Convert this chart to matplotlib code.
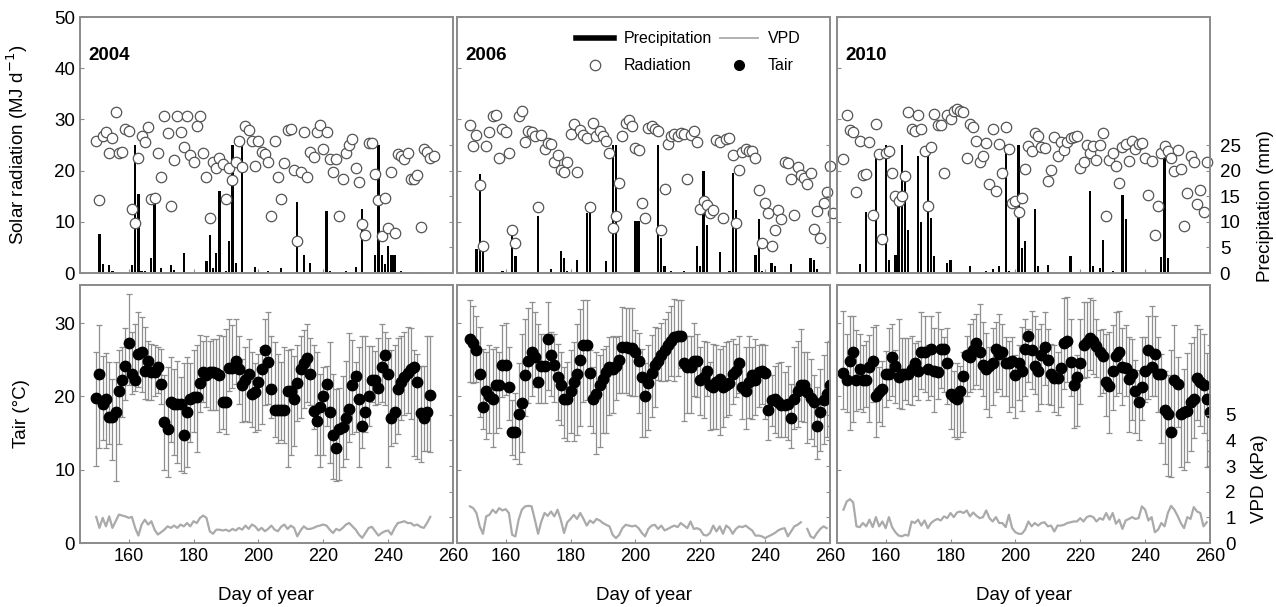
import matplotlib
matplotlib.use('Agg')
import matplotlib.pyplot as plt
from matplotlib.lines import Line2D
import numpy as np

plt.rcParams['font.family'] = ['Liberation Sans', 'DejaVu Sans']

years = ['2004', '2006', '2010']

# ---------------- 2004 ----------------
rad04_start = 150
rad04 = [25.8, 14.2, 26.8, 27.6, 23.4, 26.3, 31.4, 23.4, 23.7, 28.2, 27.8, 12.6, 9.7, 22.5, 26.7,
         25.5, 28.6, 14.5, 14.7, 23.4, 18.8, 30.6, 27.3, 13.1, 22.1, 30.7, 27.6, 24.6, 30.7, 23.1,
         21.6, 28.8, 30.6, 23.4, 18.8, 10.8, 21.6, 20.6, 22.5, 21.2, 14.4, 20.6, 18.2, 21.7, 25.7,
         20.8, 28.8, 27.9, 25.7, 20.9, 25.7, 23.7, 23.2, 21.6, 11.2, 25.8, 18.8, 14.4, 21.4, 27.9,
         28.2, 20.1, 6.2, 19.7, 27.5, 18.8, 23.7, 22.7, 27.5, 28.9, 24.3, 27.6, 22.2, 19.7, 22.2,
         11.2, 18.3, 23.4, 25.0, 26.1, 20.6, 17.8, 9.5, 7.5, 25.4, 25.4, 19.3, 14.2, 7.3, 14.7,
         8.8, 19.8, 7.8, 23.2, 22.9, 22.2, 23.4, 18.3, 18.3, 19.2, 9.0, 24.2, 23.7, 22.5, 22.9]
pr04_day = [151, 152, 154, 155, 161, 162, 163, 164, 165, 167, 168, 170, 173, 174, 177, 179, 180,
            184, 185, 186, 187, 188, 190, 191, 192, 193, 195, 197, 199, 203, 207, 212, 214, 216,
            221, 222, 227, 230, 232, 236, 237, 238, 239, 240, 241, 242, 244, 250]
pr04 = [7.6, 1.8, 1.5, 0.3, 1.5, 25, 15.5, 0.4, 0.3, 3.0, 14.7, 1.0, 1.6, 0.5, 3.9, 0.2, 0.2,
        2.4, 7.4, 1.0, 4.0, 16, 0.3, 6.2, 25, 2.0, 25, 0.2, 1.1, 0.3, 1.0, 13.9, 3.6, 2.0,
        12.2, 0.3, 0.3, 1.1, 12.5, 3.6, 25, 3.6, 1.8, 5.2, 3.6, 3.6, 0.3, 0.2]
tair04_start = 150
tair04 = [19.8, 23.1, 19.0, 19.7, 17.2, 17.2, 17.9, 20.8, 22.3, 24.1, 27.3, 23.0, 22.3, 25.8, 26.1,
          23.5, 24.8, 23.4, 23.4, 24.0, 21.7, 16.5, 15.6, 19.2, 19.0, 19.0, 19.0, 14.8, 17.9, 19.7,
          19.9, 19.9, 21.9, 23.4, 22.9, 23.4, 23.4, 23.2, 22.9, 19.2, 19.3, 23.9, 23.9, 24.9, 23.8,
          21.5, 22.2, 23.1, 20.4, 20.6, 22.0, 23.8, 26.3, 24.7, 21.0, 18.2, 18.2, 18.1, 18.2, 20.8,
          20.7, 19.7, 21.9, 23.8, 24.5, 25.3, 23.1, 18.0, 16.7, 18.5, 20.1, 21.7, 17.9, 14.8, 12.9,
          15.6, 15.8, 17.0, 18.3, 21.5, 22.8, 19.6, 16.0, 17.9, 20.0, 22.2, 22.3, 21.1, 24.0, 25.6,
          23.1, 17.0, 17.9, 21.0, 22.0, 22.6, 23.2, 23.8, 24.0, 22.0, 17.7, 17.0, 17.9, 20.2]
tmax04 = [26.0, 29.7, 25.5, 25.9, 24.7, 22.4, 24.7, 26.3, 26.7, 29.3, 34.0, 28.8, 29.9, 31.5, 30.8,
          29.5, 27.6, 27.2, 27.0, 26.7, 26.5, 22.9, 24.0, 25.4, 23.8, 24.9, 22.6, 24.5, 25.4, 24.5,
          26.3, 27.0, 28.4, 27.6, 28.3, 27.6, 27.9, 27.9, 28.4, 28.3, 29.2, 30.6, 29.7, 30.6, 28.3,
          25.1, 26.7, 27.9, 26.0, 24.5, 25.8, 26.7, 30.6, 31.5, 28.3, 27.4, 25.8, 24.7, 26.7, 26.3,
          26.5, 25.5, 27.0, 28.3, 29.0, 29.9, 28.0, 27.0, 26.0, 23.0, 24.0, 24.2, 27.4, 23.0, 21.0,
          21.2, 22.8, 24.9, 28.6, 27.7, 24.7, 26.7, 28.3, 28.3, 26.9, 26.9, 26.2, 28.0, 29.9, 28.8,
          28.0, 26.4, 27.0, 28.0, 28.3, 28.8, 29.5, 29.3, 26.3, 25.8, 24.2, 24.2, 28.3, 28.3]
tmin04 = [10.5, 13.0, 14.1, 12.9, 13.5, 11.3, 8.5, 13.5, 17.2, 19.5, 21.5, 20.4, 20.7, 21.3, 20.6,
          19.7, 19.5, 19.5, 20.0, 20.5, 19.0, 9.9, 9.0, 13.8, 12.0, 10.9, 9.8, 9.5, 10.4, 13.8,
          15.2, 12.4, 17.9, 19.3, 18.6, 18.1, 18.2, 18.2, 15.2, 15.6, 14.9, 20.8, 21.2, 21.7, 19.0,
          16.5, 16.7, 16.5, 15.8, 15.2, 15.4, 16.3, 18.8, 19.0, 17.1, 14.5, 13.6, 14.0, 13.6, 10.4,
          12.0, 13.3, 16.7, 17.0, 18.4, 19.2, 18.8, 15.6, 12.0, 10.4, 12.0, 15.9, 10.9, 8.8, 8.4,
          8.6, 10.4, 11.5, 13.8, 14.9, 15.1, 10.4, 12.9, 15.1, 16.0, 19.2, 18.8, 19.0, 19.3, 18.8,
          10.4, 13.3, 13.6, 14.9, 16.8, 17.5, 17.7, 16.9, 11.9, 11.5, 11.0, 12.6, 12.6, 12.4]
vpd04_start = 150
vpd04 = [1.02, 0.59, 0.98, 0.65, 1.04, 0.59, 0.85, 1.11, 1.07, 1.04, 0.98, 1.02, 0.59, 0.29, 0.72,
         0.91, 0.72, 0.85, 0.52, 0.33, 0.42, 0.52, 0.65, 0.59, 0.68, 0.59, 0.72, 0.65, 0.78, 0.65,
         0.85, 0.78, 0.98, 1.07, 0.98, 0.46, 0.36, 0.52, 0.52, 0.49, 0.52, 0.46, 0.55, 0.49, 0.59,
         0.52, 0.68, 0.55, 0.72, 0.65, 0.49, 0.59, 0.46, 0.55, 0.68, 0.52, 0.46, 0.63, 0.72, 0.55,
         0.68, 0.59, 0.26, 0.49, 0.65, 0.55, 0.55, 0.59, 0.65, 0.68, 0.72, 0.68, 0.52, 0.39, 0.55,
         0.49, 0.59, 0.72, 0.78, 0.65, 0.52, 0.33, 0.20, 0.39, 0.59, 0.63, 0.46, 0.29, 0.39, 0.46,
         0.49, 0.33, 0.59, 0.78, 0.81, 0.85, 0.78, 0.78, 0.68, 0.72, 0.63, 0.59, 0.78, 1.02]

# ---------------- 2006 ----------------
rad06_start = 149
rad06 = [28.9, 24.8, 26.9, 17.1, 5.2, 24.8, 27.5, 30.7, 30.8, 22.4, 28.1, 27.5, 23.4, 8.5, 5.8,
         30.6, 31.7, 25.6, 27.8, 27.5, 26.7, 12.9, 26.9, 24.3, 25.4, 25.2, 21.7, 23.0, 20.1, 19.7,
         21.7, 27.1, 29.1, 19.7, 28.0, 26.9, 26.3, 12.9, 29.3, 26.7, 27.8, 26.7, 25.8, 23.4, 8.8,
         11.1, 17.6, 26.7, 29.3, 29.9, 28.8, 24.5, 24.1, 13.6, 10.8, 28.4, 28.8, 28.1, 27.8, 8.5,
         16.5, 25.2, 26.8, 27.1, 26.8, 27.3, 27.1, 18.3, 26.9, 27.8, 25.5, 12.5, 14.1, 13.2, 11.8,
         12.4, 26.0, 25.5, 10.8, 26.1, 26.3, 23.0, 9.7, 20.1, 23.7, 24.2, 23.9, 23.9, 22.4, 16.3,
         5.8, 13.6, 11.8, 5.2, 8.5, 12.4, 10.5, 21.7, 21.4, 18.3, 11.4, 20.8, 19.1, 18.6, 17.3,
         19.6, 8.6, 12.1, 6.9, 13.6, 15.8, 21.0, 11.8]
pr06_day = [151, 152, 153, 159, 162, 163, 170, 174, 177, 178, 179, 182, 185, 186, 191, 193, 194,
            195, 196, 200, 201, 207, 208, 209, 211, 215, 219, 220, 221, 222, 226, 229, 230, 231,
            237, 238, 239, 242, 243, 248, 250, 254, 255, 256, 260]
pr06 = [4.7, 19.3, 4.7, 0.3, 7.8, 3.4, 11.2, 0.8, 4.4, 2.9, 0.3, 2.6, 11.8, 12.4, 2.4, 25, 25,
        0.2, 0.2, 10.1, 10.1, 25, 6.9, 1.3, 0.3, 0.3, 5.2, 1.3, 20.0, 9.3, 4.1, 0.3, 19.6, 12.3,
        3.6, 10.5, 0.4, 2.0, 1.3, 1.8, 0.2, 2.9, 2.6, 0.8, 13.7]
tair06_start = 149
tair06 = [27.9, 27.3, 26.3, 23.0, 18.5, 20.7, 20.1, 19.7, 21.6, 21.6, 24.3, 24.3, 21.3, 15.1, 15.2,
          17.6, 19.1, 22.9, 24.9, 26.1, 25.4, 22.0, 24.2, 24.2, 27.9, 25.6, 24.3, 22.6, 21.5, 19.7,
          19.7, 20.8, 22.0, 23.1, 25.0, 27.0, 27.0, 23.2, 19.7, 20.4, 21.5, 22.4, 23.3, 24.0, 23.7,
          24.2, 25.0, 26.7, 26.7, 26.6, 26.6, 26.1, 24.8, 22.6, 20.1,
          21.9, 23.2, 24.3, 24.9, 25.6, 26.4, 27.0, 27.6, 28.1, 28.3, 28.3, 24.5, 24.0, 24.0, 24.8,
          24.8, 22.3, 22.6, 23.5, 21.6, 21.3, 22.0, 22.4, 21.3, 21.5, 21.8, 23.1, 23.5, 24.6, 21.3,
          20.7, 22.0, 22.9, 22.3, 23.3, 23.5, 23.2, 18.2, 19.5, 19.6, 19.2, 18.9, 18.9, 19.0, 17.0,
          19.7, 20.8, 21.6, 21.6, 20.6, 19.8, 19.2, 16.0, 17.9, 19.5, 20.4, 21.6]
tmax06 = [33.1, 32.4, 31.0, 29.5, 26.5, 26.0, 27.0, 26.5, 26.7, 26.0, 29.7, 30.0, 26.7, 19.5, 20.5,
          24.5, 28.5, 30.5, 32.0, 32.9, 31.5, 29.9, 28.5, 28.5, 32.9, 28.8, 28.5, 27.2, 26.0, 24.0,
          24.7, 26.3, 27.4, 29.9, 31.9, 33.2, 33.2, 26.3, 24.0, 26.0, 25.6, 26.5, 26.9, 28.1, 28.3,
          28.1, 28.3, 32.2, 32.0, 32.0, 32.0, 29.1, 28.6, 26.5, 24.5,
          27.0, 28.4, 29.5, 29.3, 30.0, 30.6, 31.5, 32.4, 33.3, 33.1, 33.1, 28.3, 28.3, 28.3, 30.0,
          28.5, 26.7, 27.6, 27.4, 24.7, 27.2, 27.0, 26.5, 26.9, 27.4, 27.6, 27.8, 27.2, 28.3, 24.3,
          26.7, 28.3, 26.7, 27.8, 27.0, 27.2, 27.0, 23.1, 22.9, 24.2, 24.5, 24.7, 23.4, 24.1, 21.7,
          26.7, 27.6, 29.2, 26.0, 26.0, 25.1, 22.9, 21.3, 23.8, 25.6, 27.4, 27.5]
tmin06 = [22.0, 21.8, 22.0, 17.2, 15.5, 14.2, 15.0, 13.1, 15.0, 15.7, 19.9, 20.2, 16.8, 12.0, 11.5,
          10.8, 12.4, 17.3, 19.1, 20.0, 21.3, 19.1, 19.1, 19.1, 20.9, 20.0, 19.3, 16.8, 16.1, 14.3,
          13.9, 15.0, 13.9, 14.8, 15.9, 19.3, 19.5, 15.9, 15.0, 12.2, 13.1, 15.0, 15.0, 17.5, 17.7,
          19.5, 20.5, 20.5, 20.5, 20.2, 20.0, 20.0, 17.7, 14.5, 14.5,
          15.4, 17.2, 18.6, 22.3, 22.1, 22.1, 22.2, 22.8, 22.1, 22.8, 23.9, 16.7, 17.8, 17.8, 20.1,
          19.9, 17.5, 17.0, 20.0, 15.4, 15.6, 15.6, 14.7, 15.8, 17.2, 17.5, 19.0, 19.9, 20.5, 16.9,
          15.5, 17.0, 16.9, 17.5, 18.5, 19.0, 16.9, 14.0, 16.0, 15.0, 14.5, 14.5, 14.5, 14.0, 13.0,
          15.6, 15.8, 16.7, 16.5, 13.7, 14.2, 13.2, 11.5, 12.5, 13.5, 14.5, 16.0]
vpd06_start = 149
vpd06 = [1.43, 1.36, 1.17, 0.65, 0.36, 1.04, 1.10, 1.30, 1.17, 1.36, 1.27, 1.32, 1.17, 0.32, 0.26,
         0.91, 1.30, 1.43, 1.45, 1.43, 0.91, 0.36, 0.84, 1.17, 1.06, 1.23, 1.04, 1.30, 0.91, 0.39,
         0.81, 0.94, 1.10, 0.94, 1.17, 0.94, 0.68, 0.88, 0.78, 0.94, 0.88, 0.78, 0.71, 0.65, 0.32,
         0.19, 0.32, 0.58, 0.71, 0.68, 0.65, 0.68, 0.58, 0.39, 0.26, 0.55, 0.68, 0.71, 0.55, 0.68,
         0.49, 0.55, 0.62, 0.68, 0.62, 0.78, 0.68, 0.58, 0.84, 0.55, 0.58, 0.52, 0.32, 0.29, 0.39,
         0.68, 0.45, 0.65, 0.36, 0.68, 0.58, 0.36, 0.55, 0.65, 0.62, 0.68, 0.58, 0.49, 0.29, 0.29,
         0.26, 0.19, 0.26, 0.32, 0.39, 0.49, 0.55, 0.58, 0.26, 0.45, 0.65, 0.71, 0.81, np.nan, 0.55,
         0.26, 0.19, 0.39, 0.55, 0.65, 0.58]

# ---------------- 2010 ----------------
rad10_start = 147
rad10 = [22.2, 30.8, 28.0, 27.6, 15.8, 25.8, 19.1, 19.3, 25.5, 11.4, 29.1, 23.2, 6.7, 23.5, 23.9,
         19.5, 15.0, 14.1, 15.0, 19.0, 31.4, 28.1, 27.8, 30.8, 28.2, 23.9, 13.1, 24.7, 31.0, 28.9,
         28.9, 19.6, 30.8, 30.1, 31.7, 32.0, 31.7, 31.5, 22.5, 29.1, 28.6, 25.8, 21.6, 22.9, 25.4,
         17.3, 28.1, 16.0, 25.2, 19.5, 28.6, 24.3, 13.6, 14.1, 11.9, 14.7, 20.4, 24.8, 23.9, 27.3,
         26.8, 24.7, 24.5, 18.0, 20.1, 26.5, 22.9, 25.5, 24.1, 25.6, 26.3, 26.5, 26.8, 20.6, 21.7,
         25.0, 23.5, 24.8, 22.1, 25.0, 27.3, 11.1, 22.1, 23.5, 21.0, 17.6, 24.7, 25.2, 21.9, 25.8,
         24.2, 25.2, 25.4, 22.5, 15.2, 21.9, 7.5, 13.1, 23.5, 24.8, 23.9, 22.5, 19.9, 24.1, 20.3,
         9.2, 15.7, 22.9, 21.7, 13.4, 16.3, 11.9, 21.7]
pr10_day = [152, 154, 157, 160, 161, 163, 164, 165, 166, 167, 170, 171, 173, 174, 175, 179, 180,
            186, 190, 191, 193, 195, 197, 198, 201, 202, 203, 206, 207, 210, 213, 217, 223, 224,
            226, 227, 230, 233, 234, 237, 240, 242, 245, 246, 247]
pr10 = [1.8, 11.9, 22.4, 25, 2.5, 3.6, 13.1, 25, 18, 8.5, 22.9, 9.9, 22.9, 10.8, 3.3, 2.0, 2.5,
        1.3, 0.2, 0.3, 0.8, 1.4, 25, 0.3, 25, 4.9, 6.2, 12.5, 1.3, 1.6, 0.2, 3.4, 16, 1.4,
        1.0, 6.5, 0.3, 15.2, 10.5, 0.2, 0.2, 0.2, 3.1, 22.4, 2.9]
tair10_start = 147
tair10 = [23.2, 22.3, 24.9, 26.0, 22.3, 23.8, 22.2, 22.2, 24.0, 24.8, 20.1, 20.6, 21.0, 23.1, 23.0,
          25.4, 24.2, 22.6, 23.1, 23.1, 23.1, 23.7, 24.5, 23.5, 26.0, 26.0, 23.8, 26.5, 23.5, 23.3,
          26.5, 26.5, 24.5, 20.4, 19.9, 19.7, 20.8, 22.8, 25.6, 25.4, 26.3, 27.3, 26.1, 24.3, 23.8,
          24.2, 24.6, 26.5, 25.8, 26.0, 24.5, 24.6, 24.9, 22.9, 24.5, 23.5,
          26.5, 28.3, 26.3, 24.2, 23.5, 25.6, 26.7, 25.0, 23.0, 22.5, 22.5, 23.9, 27.3, 27.6, 24.7,
          21.5, 22.6, 24.6, 27.0, 27.4, 28.0, 27.6, 26.9, 26.0, 25.5, 22.0, 21.4, 23.5, 25.5, 26.0,
          24.0, 23.9, 22.4, 23.0, 20.7, 19.2, 21.3, 23.5, 26.3, 24.0, 25.8, 23.0, 23.1, 18.1, 17.6,
          15.1, 22.2, 21.7, 17.6, 17.9, 18.0, 19.3, 19.7, 22.5, 22.0, 21.6, 19.6, 17.9]
tmax10 = [31.7, 28.5, 31.0, 31.0, 29.1, 28.5, 27.0, 27.5, 28.4, 29.5, 29.7, 24.0, 24.9, 26.2, 29.3,
          29.9, 26.3, 30.6, 28.0, 28.0, 28.0, 28.2, 27.3, 27.5, 31.5, 31.0, 27.0, 31.0, 29.3, 31.5,
          29.2, 28.1, 29.4, 24.5, 23.5, 24.5, 24.2, 26.0, 28.3, 29.9, 30.6, 31.3, 32.6, 30.2, 28.6,
          26.8, 29.3, 30.2, 31.3, 29.9, 28.1, 27.6, 28.1, 25.6, 27.0, 29.5,
          30.6, 29.2, 31.7, 31.0, 29.2, 29.9, 31.5, 29.2, 27.2, 27.0, 26.1, 27.2, 33.4, 33.6, 30.6,
          24.2, 25.6, 30.6, 32.9, 32.9, 33.4, 33.1, 30.6, 29.0, 29.2, 28.5, 28.8, 29.7, 31.5, 31.7,
          29.4, 29.7, 28.1, 27.8, 25.0, 23.6, 28.1, 28.1, 31.0, 32.4, 31.0, 28.1, 25.8, 23.5, 22.9,
          26.4, 29.7, 25.4, 21.3, 23.8, 25.9, 27.3, 28.1, 29.7, 29.2, 28.5, 25.9, 27.0]
tmin10 = [18.3, 17.9, 15.4, 16.5, 18.0, 18.3, 17.9, 18.5, 16.5, 19.2, 14.5, 16.5, 16.0, 18.5, 19.5,
          20.1, 19.1, 18.4, 18.3, 19.5, 19.0, 18.9, 20.1, 19.5, 21.0, 20.6, 19.5, 20.1, 17.9, 19.7,
          21.2, 20.6, 19.0, 15.6, 14.5, 14.2, 14.5, 15.1, 20.1, 20.6, 21.0, 21.5, 21.0, 20.1, 18.3,
          17.2, 18.8, 20.6, 21.0, 20.1, 20.1, 17.9, 18.5, 17.0, 19.5, 18.0,
          20.1, 22.0, 21.0, 20.4, 18.0, 19.0, 21.6, 19.0, 18.9, 17.9, 17.5, 18.5, 21.0, 22.0, 20.1,
          15.7, 16.0, 19.0, 22.5, 22.7, 23.6, 23.0, 22.7, 20.1, 20.5, 17.4, 15.0, 18.2, 20.1, 20.5,
          18.9, 20.1, 15.2, 16.8, 15.0, 14.1, 16.8, 19.2, 19.7, 20.1, 20.1, 17.9, 13.7, 10.8, 9.2,
          9.0, 15.4, 15.8, 10.4, 10.0, 11.0, 12.5, 14.3, 16.8, 16.0, 15.0, 10.4, 12.5]
vpd10_start = 147
vpd10 = [1.30, 1.62, 1.71, 1.58, 0.65, 0.62, 0.78, 0.65, 0.91, 0.62, 1.01, 0.65, 0.84, 0.58, 1.01,
         0.62, 0.42, 0.29, 0.26, 0.32, 0.29, 0.84, 0.78, 0.91, 0.68, 0.88, 0.58, 0.78, 0.88, 0.94,
         0.88, 1.04, 0.97, 1.17, 1.01, 1.19, 1.23, 1.17, 1.27, 1.04, 1.19, 1.06, 0.97, 1.01, 1.27,
         0.97, 0.84, 1.01, 0.78, 0.78, 0.62, 1.10, 0.58, 0.42, 0.36, 0.36, 0.52, 0.84, 0.65, 0.78,
         0.68, 0.78, 0.81, 0.65, 0.68, 0.45, 0.68, 0.68, 0.71, 0.78, 0.81, 0.84, 0.84, 0.97, 0.84,
         1.01, 1.06, 1.01, 0.84, 0.97, 0.91, 1.17, 0.91, 1.17, 0.75, 0.91, 0.55, 0.88, 0.94, 1.01,
         0.94, 0.97, 1.43, 1.30, 0.88, 1.01, 0.42, 0.52, 0.78, 0.65, 1.17, 1.45, 1.30, 1.06, 0.78,
         0.58, 1.01, 0.94, 1.40, 1.23, 1.17, 0.65, 0.81]

data = {
    '2004': (rad04_start, rad04, pr04_day, pr04, tair04_start, tair04, tmax04, tmin04, vpd04_start, vpd04),
    '2006': (rad06_start, rad06, pr06_day, pr06, tair06_start, tair06, tmax06, tmin06, vpd06_start, vpd06),
    '2010': (rad10_start, rad10, pr10_day, pr10, tair10_start, tair10, tmax10, tmin10, vpd10_start, vpd10),
}

frame_col = '#8c8c8c'
lefts = [80 / 1276, 457 / 1276, 837 / 1276]
width = 373 / 1276

fig = plt.figure(figsize=(12.76, 6.07), dpi=100)


def style(ax):
    for s in ax.spines.values():
        s.set_color(frame_col)
        s.set_linewidth(1.3)
    ax.tick_params(direction='in', length=3, color=frame_col, width=0.8)


for i, yr in enumerate(years):
    (r0, rad, pday, pr, t0, tair, tmax, tmin, v0, vpd) = data[yr]
    tair = np.array(tair)
    tmax = np.array(tmax)
    tmin = np.array(tmin)

    # top: radiation + precipitation (same 0-50 scale, right axis labelled 0-25)
    ax = fig.add_axes([lefts[i], 0.5502, width, 0.4217])
    ax.bar(pday, pr, width=0.7, color='black', zorder=2)
    ax.plot(np.arange(r0, r0 + len(rad)), rad, 'o', mfc='white', mec='#555555',
            ms=7.5, mew=0.9, zorder=3, clip_on=False)
    ax.set_xlim(145, 260)
    ax.set_ylim(0, 50)
    ax.set_yticks(range(0, 51, 10))
    ax.set_xticks(range(160, 261, 20))
    ax.tick_params(labelbottom=False)
    style(ax)
    ax.text(0.022, 0.85, yr, transform=ax.transAxes, fontsize=13.5, fontweight='bold',
            va='center', ha='left')
    axp = ax.twinx()
    axp.set_ylim(0, 50)
    axp.set_yticks(range(0, 26, 5))
    style(axp)
    if i == 0:
        ax.set_ylabel('Solar radiation (MJ d$^{-1}$)', fontsize=13.5)
        ax.yaxis.set_label_coords(-0.135, 0.5)
        ax.tick_params(axis='y', labelsize=13.5)
    else:
        ax.tick_params(labelleft=False)
    if i == 2:
        axp.set_ylabel('Precipitation (mm)', fontsize=13.5, rotation=90)
        axp.yaxis.set_label_coords(1.125, 0.26)
        axp.tick_params(axis='y', labelsize=13.5, pad=7)
    else:
        axp.tick_params(labelright=False)

    if i == 1:
        handles = [
            Line2D([], [], color='black', lw=4),
            Line2D([], [], ls='none', marker='o', mfc='white', mec='#555555', ms=7.5, mew=0.9),
            Line2D([], [], color='#aaaaaa', lw=1.3),
            Line2D([], [], ls='none', marker='o', color='black', ms=7),
        ]
        ax.legend(handles, ['Precipitation', 'Radiation', 'VPD', 'Tair'], ncol=2,
                  loc='upper left', bbox_to_anchor=(0.28, 1.0), frameon=False,
                  fontsize=11.5, handlelength=2.4, handletextpad=0.6, columnspacing=0.5,
                  labelspacing=0.75)

    # bottom: Tair with daily range + VPD
    axb = fig.add_axes([lefts[i], 0.1054, width, 0.425])
    days = np.arange(t0, t0 + len(tair))
    axb.errorbar(days, tair, yerr=[tair - tmin, tmax - tair], fmt='o', color='black', ms=7.5,
                 ecolor='#8f8f8f', elinewidth=0.9, capsize=2, capthick=0.9, zorder=3)
    axb.set_xlim(145, 260)
    axb.set_ylim(0, 35.2)
    axb.set_yticks([0, 10, 20, 30])
    axb.set_xticks(range(160, 261, 20))
    axb.tick_params(axis='x', labelsize=13)
    style(axb)
    axb.set_xlabel('Day of year', fontsize=13.5, labelpad=16)
    axv = axb.twinx()
    axv.plot(np.arange(v0, v0 + len(vpd)), vpd, color='#aaaaaa', lw=1.6)
    axv.set_ylim(0, 10.06)
    axv.set_yticks(range(0, 6))
    style(axv)
    if i == 0:
        axb.set_ylabel('Tair (°C)', fontsize=13.5)
        axb.yaxis.set_label_coords(-0.135, 0.5)
        axb.tick_params(axis='y', labelsize=13.5)
    else:
        axb.tick_params(labelleft=False)
    if i == 2:
        axv.set_ylabel('VPD (kPa)', fontsize=13.5, rotation=90)
        axv.yaxis.set_label_coords(1.11, 0.25)
        axv.tick_params(axis='y', labelsize=13.5, pad=11)
    else:
        axv.tick_params(labelright=False)

fig.savefig('out.png', dpi=100)
